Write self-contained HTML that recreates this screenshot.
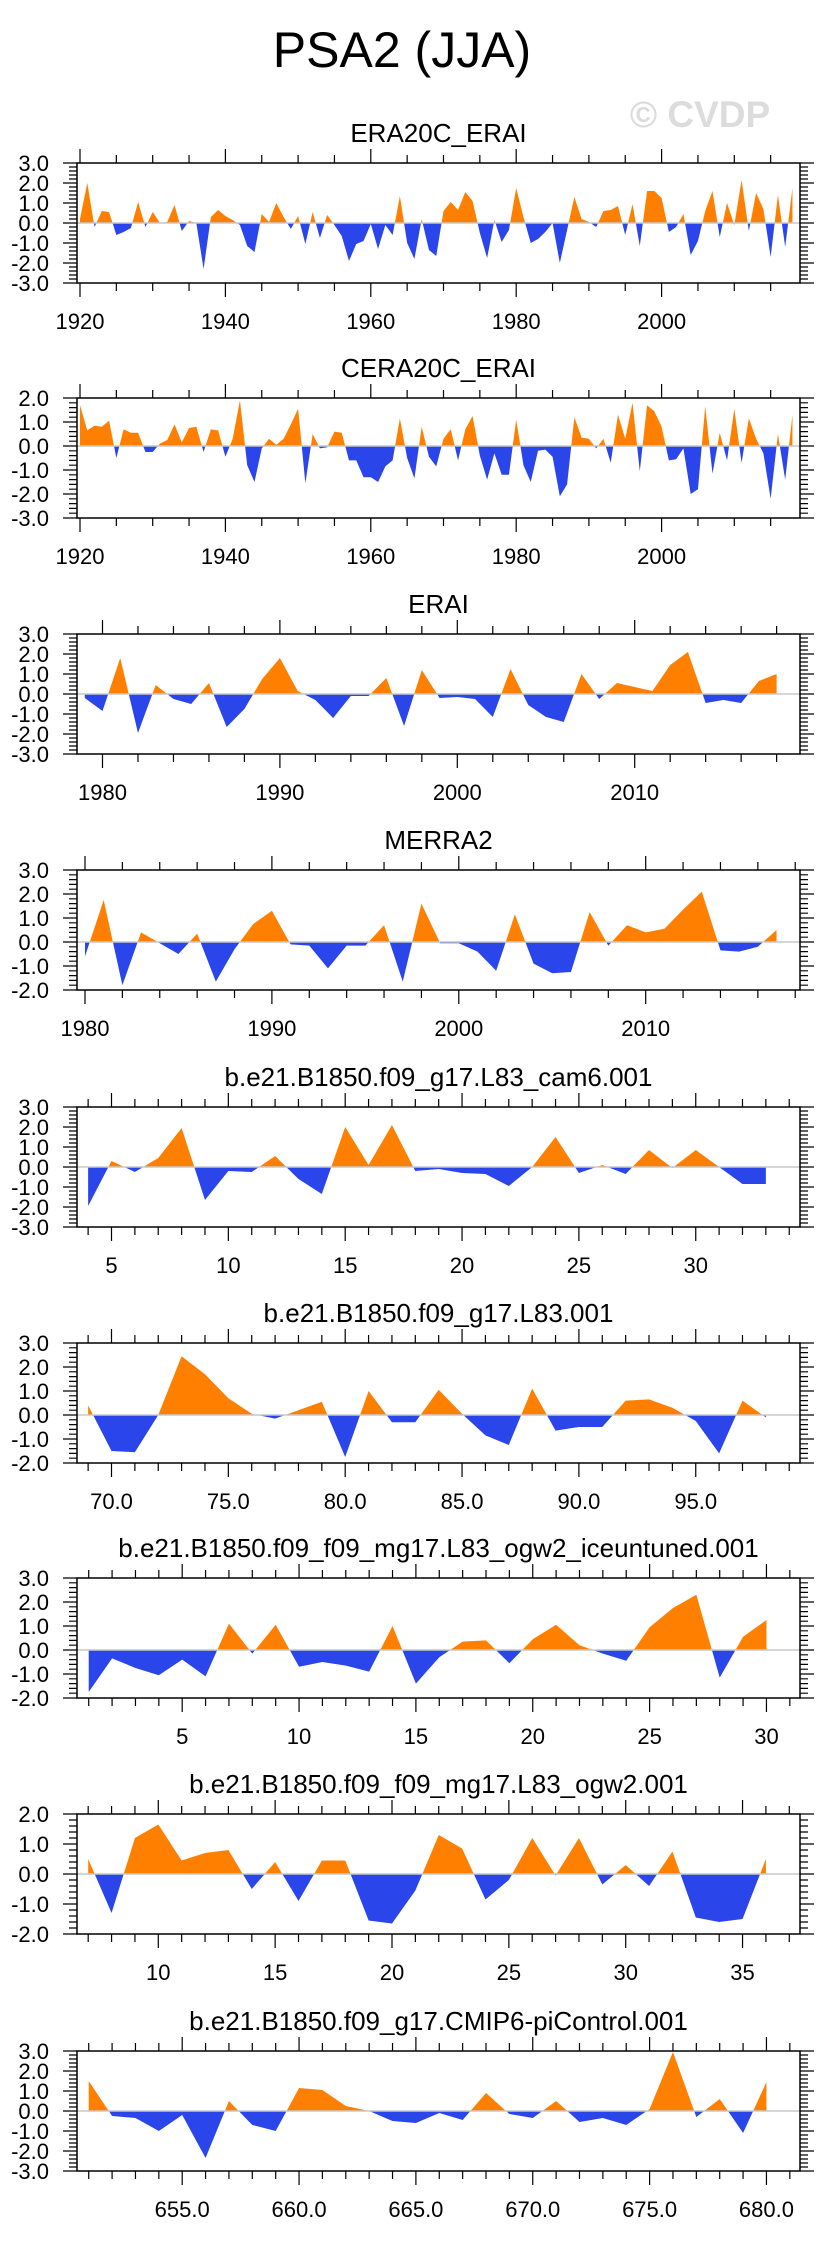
<!DOCTYPE html>
<html><head><meta charset="utf-8"><style>
html,body{margin:0;padding:0;background:#fff;}
svg{display:block;font-family:"Liberation Sans",sans-serif;}
</style></head><body>
<svg id="chart" width="829" height="2245" viewBox="0 0 829 2245" xmlns="http://www.w3.org/2000/svg">
<text x="402" y="67" font-size="50" text-anchor="middle" fill="#000">PSA2 (JJA)</text>
<text x="700" y="127" font-size="37" font-weight="bold" text-anchor="middle" fill="#dcdcdc">© CVDP</text>
</svg>
<script>
// ---- data arrays ----
const era20cVals = [0.2,2.0,-0.2,0.6,0.55,-0.6,-0.45,-0.25,1.05,-0.2,
0.55,0.0,0.05,0.9,-0.4,0.1,0.0,-2.3,0.3,0.65,
0.35,0.15,-0.1,-1.15,-1.45,0.45,0.05,1.0,0.3,-0.3,
0.35,-1.05,0.55,-0.75,0.4,-0.1,-0.65,-1.9,-1.05,-0.9,
-0.05,-1.3,-0.1,-0.6,1.35,-1.0,-1.8,0.2,-1.35,-1.65,
0.6,1.05,0.65,1.55,1.1,-0.5,-1.75,0.15,-0.95,-0.35,
1.75,0.3,-1.0,-0.8,-0.45,0.0,-2.0,-0.35,1.3,0.2,
0.05,-0.2,0.6,0.65,0.85,-0.6,0.95,-1.15,1.6,1.6,
1.25,-0.45,-0.2,0.45,-1.6,-0.9,0.6,1.6,-0.7,1.0,
-0.1,2.15,-0.4,1.5,0.7,-1.7,1.4,-1.2,1.75];
const cera20cVals = [1.7,0.65,0.85,0.8,1.05,-0.5,0.7,0.55,0.55,-0.25,
-0.25,0.1,0.25,0.9,0.15,0.75,0.8,-0.25,0.7,0.65,
-0.45,0.3,1.9,-0.8,-1.5,-0.1,0.3,0.05,0.3,0.9,
1.55,-1.55,0.5,-0.1,-0.05,0.6,0.55,-0.6,-0.6,-1.3,
-1.3,-1.5,-0.85,-0.6,1.15,-0.5,-1.35,0.8,-0.45,-0.85,
0.3,0.7,-0.6,0.7,1.25,-0.4,-1.4,-0.3,-1.2,-1.2,
1.1,-0.8,-1.5,-0.2,-0.15,-0.45,-2.1,-1.6,1.2,0.35,
0.3,-0.1,0.3,-0.7,1.3,0.3,1.8,-1.05,1.7,1.45,
0.8,-0.6,-0.55,-0.1,-2.0,-1.8,1.65,-1.15,0.55,-0.6,
1.55,-0.7,1.15,0.3,-0.3,-2.2,0.5,-1.4,1.3];
const eraiVals = [-0.2,-0.85,1.8,-1.95,0.45,-0.25,-0.5,0.55,-1.65,-0.75,
0.75,1.8,0.15,-0.3,-1.2,-0.1,-0.1,0.8,-1.6,1.2,
-0.2,-0.15,-0.25,-1.15,1.25,-0.55,-1.15,-1.4,1.0,-0.25,
0.55,0.35,0.15,1.45,2.1,-0.45,-0.3,-0.45,0.65,1.0];
const merra2Vals = [-0.6,1.75,-1.8,0.4,-0.05,-0.5,0.35,-1.65,-0.3,0.75,
1.3,-0.1,-0.15,-1.1,-0.15,-0.15,0.7,-1.65,1.6,-0.05,
-0.05,-0.4,-1.2,1.15,-0.9,-1.3,-1.25,1.25,-0.15,0.7,
0.4,0.55,1.35,2.1,-0.35,-0.4,-0.2,0.5];
const cam6Vals = [-1.95,0.3,-0.25,0.45,1.95,-1.65,-0.2,-0.25,0.55,-0.6,
-1.35,2.0,0.1,2.1,-0.2,-0.1,-0.3,-0.35,-0.95,0.0,
1.5,-0.3,0.1,-0.35,0.85,-0.05,0.85,0.0,-0.85,-0.85];
const l83Vals = [0.4,-1.5,-1.55,0.0,2.45,1.7,0.7,0.05,-0.15,0.2,
0.55,-1.75,1.0,-0.3,-0.3,1.05,0.05,-0.85,-1.25,1.1,
-0.65,-0.5,-0.5,0.6,0.65,0.3,-0.25,-1.6,0.6,-0.1];
const iceVals = [-1.75,-0.35,-0.75,-1.05,-0.4,-1.1,1.1,-0.15,1.05,-0.7,
-0.5,-0.65,-0.9,1.0,-1.4,-0.3,0.35,0.4,-0.55,0.45,
1.05,0.2,-0.15,-0.45,0.95,1.75,2.3,-1.15,0.55,1.25];
const ogw2Vals = [0.5,-1.3,1.2,1.65,0.45,0.7,0.8,-0.5,0.4,-0.9,
0.45,0.45,-1.55,-1.65,-0.55,1.3,0.85,-0.85,-0.2,1.2,
-0.05,1.2,-0.35,0.3,-0.4,0.75,-1.45,-1.6,-1.5,0.5];
const piVals = [1.5,-0.25,-0.35,-1.0,-0.2,-2.35,0.5,-0.7,-1.0,1.15,
1.05,0.25,0.0,-0.5,-0.6,-0.1,-0.45,0.9,-0.15,-0.35,
0.5,-0.55,-0.35,-0.7,0.1,2.95,-0.3,0.6,-1.1,1.45];
const seriesStarts = [1920,1920,1979,1980,4,69,1,7,651];
const panelTitles = ["ERA20C_ERAI","CERA20C_ERAI","ERAI","MERRA2","b.e21.B1850.f09_g17.L83_cam6.001","b.e21.B1850.f09_g17.L83.001","b.e21.B1850.f09_f09_mg17.L83_ogw2_iceuntuned.001","b.e21.B1850.f09_f09_mg17.L83_ogw2.001","b.e21.B1850.f09_g17.CMIP6-piControl.001"];
const yMins = [-3,-3,-3,-2,-3,-2,-2,-2,-3];
const yMaxs = [3,2,3,3,3,3,3,2,3];
const xTickLabels = [["1920","1940","1960","1980","2000"],["1920","1940","1960","1980","2000"],["1980","1990","2000","2010"],["1980","1990","2000","2010"],["5","10","15","20","25","30"],["70.0","75.0","80.0","85.0","90.0","95.0"],["5","10","15","20","25","30"],["10","15","20","25","30","35"],["655.0","660.0","665.0","670.0","675.0","680.0"]];
const xTickValues = [[1920,1940,1960,1980,2000],[1920,1940,1960,1980,2000],[1980,1990,2000,2010],[1980,1990,2000,2010],[5,10,15,20,25,30],[70,75,80,85,90,95],[5,10,15,20,25,30],[10,15,20,25,30,35],[655,660,665,670,675,680]];
const allVals = [era20cVals,cera20cVals,eraiVals,merra2Vals,cam6Vals,l83Vals,iceVals,ogw2Vals,piVals];

// ---- layout (not data) ----
const panelTops = [163,398,634,870,1107,1343,1578,1814,2051];
const axRef = [[1920,80,7.27],[1920,80,7.27],[1980,102.5,17.74],[1980,85,18.69],[5,111.5,23.37],[70,111.5,23.37],[5,182.2,23.37],[10,158.3,23.37],[655,182.2,23.37]];
const minorSteps = [5,5,2,2,1,1,1,1,1];
const BL = 77, BR = 800, BH = 120;
const svg = document.getElementById('chart');
const NS = 'http://www.w3.org/2000/svg';
function mk(tag, attrs, parent) {
  const e = document.createElementNS(NS, tag);
  for (const k in attrs) e.setAttribute(k, attrs[k]);
  (parent || svg).appendChild(e);
  return e;
}
function fmt(v){ return v.toFixed(1); }

for (let p = 0; p < 9; p++) {
  const top = panelTops[p], bot = top + BH;
  const ymin = yMins[p], ymax = yMaxs[p];
  const [rv, rp, k] = axRef[p];
  const xs = v => rp + (v - rv) * k;
  const ys = v => bot - (v - ymin) / (ymax - ymin) * BH;
  const g = mk('g', {});
  
  

  const t = mk('text', {x: (BL + BR) / 2, y: top - 21, 'font-size': 26, 'text-anchor': 'middle'}, g);
  
  
  t.textContent = panelTitles[p];

  const vals = allVals[p], start = seriesStarts[p];
  const pts = [];
  for (let i = 0; i < vals.length; i++) {
    const x = start + i, v = vals[i];
    if (i > 0) {
      const pv = vals[i - 1];
      if ((pv > 0 && v < 0) || (pv < 0 && v > 0)) {
        const f = pv / (pv - v);
        pts.push([x - 1 + f, 0]);
      }
    }
    pts.push([x, v]);
  }
  const x0 = pts[0][0], x1 = pts[pts.length - 1][0];
  let posD = 'M' + xs(x0) + ',' + ys(0), negD = posD;
  pts.forEach(([x, v]) => {
    posD += ' L' + xs(x).toFixed(2) + ',' + ys(Math.max(v, 0)).toFixed(2);
    negD += ' L' + xs(x).toFixed(2) + ',' + ys(Math.min(v, 0)).toFixed(2);
  });
  posD += ' L' + xs(x1) + ',' + ys(0) + ' Z';
  negD += ' L' + xs(x1) + ',' + ys(0) + ' Z';
  const pa = mk('path', {d: posD, fill: '#ff8000', stroke: 'none'}, g);
  
  
  const na = mk('path', {d: negD, fill: '#2a45ea', stroke: 'none'}, g);
  
  

  const zl = mk('line', {x1: BL, x2: BR, y1: ys(0), y2: ys(0), stroke: '#c8c8c8', 'stroke-width': 1.5}, g);
  
  

  const box = mk('rect', {x: BL, y: top, width: BR - BL, height: BH, fill: 'none', stroke: '#000', 'stroke-width': 1.5}, g);
  
  

  let tickPath = '';
  const ms = minorSteps[p];
  const firstV = Math.ceil((rv + (BL - rp) / k) / ms) * ms;
  const majorSet = xTickValues[p];
  const majStep = majorSet[1] - majorSet[0];
  for (let v = firstV; xs(v) <= BR + 0.1; v += ms) {
    const x = xs(v);
    const isMaj = (((v - majorSet[0]) % majStep) + majStep) % majStep === 0;
    const L = isMaj ? 14 : 8;
    tickPath += `M${x},${bot} v${L} M${x},${top} v${-L} `;
  }
  for (let i = 0; i <= (ymax - ymin) * 5; i++) {
    const v = ymin + i * 0.2;
    const y = ys(v);
    const isMaj = i % 5 === 0;
    const L = isMaj ? 14 : 8;
    tickPath += `M${BL},${y} h${-L} M${BR},${y} h${L} `;
  }
  const tk = mk('path', {d: tickPath, stroke: '#000', 'stroke-width': 1.2, fill: 'none'}, g);
  
  

  for (let v = ymin; v <= ymax; v++) {
    const yl = mk('text', {x: 49, y: ys(v) + 8, 'font-size': 22, 'text-anchor': 'end'}, g);
    
    
    yl.textContent = fmt(v);
  }
  majorSet.forEach((v, i) => {
    const xl = mk('text', {x: xs(v), y: bot + 46, 'font-size': 22, 'text-anchor': 'middle'}, g);
    
    
    xl.textContent = xTickLabels[p][i];
  });
}
</script>
</body></html>
